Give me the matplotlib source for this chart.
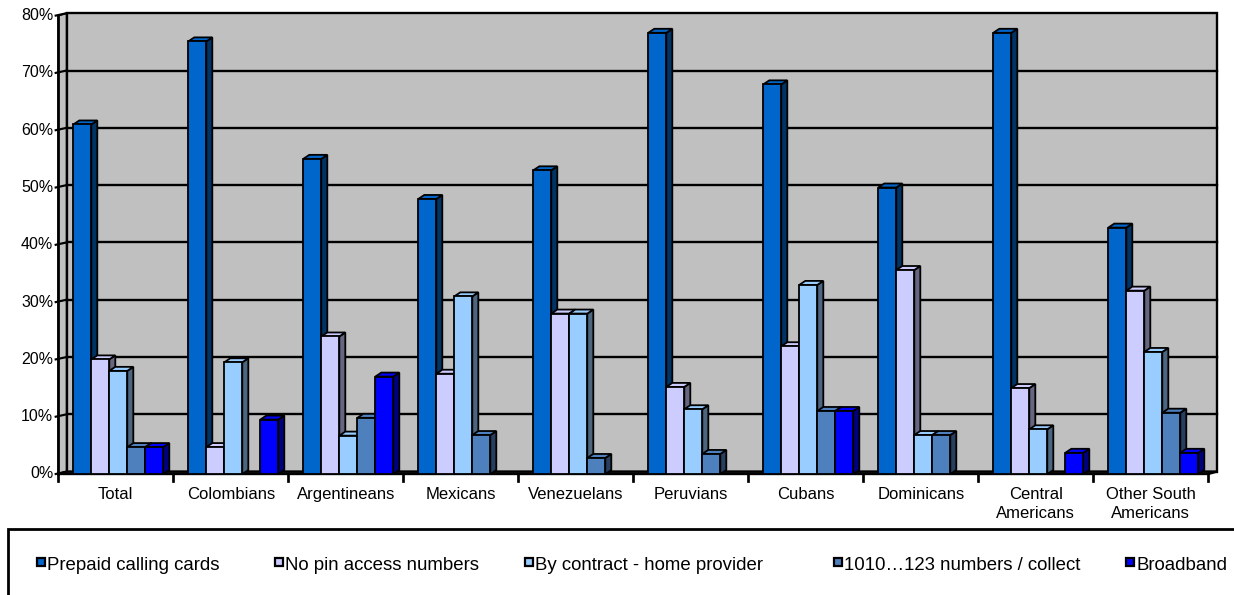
import matplotlib
matplotlib.use("Agg")
import matplotlib.pyplot as plt
from matplotlib.patches import Polygon, Rectangle

plt.rcParams['font.family'] = ['Liberation Sans', 'DejaVu Sans']

categories = ["Total", "Colombians", "Argentineans", "Mexicans", "Venezuelans",
              "Peruvians", "Cubans", "Dominicans", "Central\nAmericans", "Other South\nAmericans"]
series_names = ["Prepaid calling cards", "No pin access numbers",
                "By contract - home provider", "1010\u2026123 numbers / collect", "Broadband"]
prepaid = [61, 75.5, 55, 48, 53, 77, 68, 50, 77, 43]
no_pin = [20, 4.7, 24, 17.5, 28, 15.2, 22.3, 35.6, 15, 32]
contract = [18, 19.5, 6.7, 31, 28, 11.3, 33, 6.8, 7.8, 21.3]
ten10 = [4.7, 0, 9.8, 6.8, 2.8, 3.5, 11, 6.8, 0, 10.7]
broadband = [4.7, 9.5, 17, 0, 0, 0, 11, 0, 3.7, 3.7]
yticks = [0, 10, 20, 30, 40, 50, 60, 70, 80]

series = [prepaid, no_pin, contract, ten10, broadband]
front_cols = ["#0066CC", "#CCCCFF", "#99CCFF", "#4F80BE", "#0000FF"]
side_cols = ["#003366", "#666680", "#4C6680", "#283F5F", "#000080"]

W, H = 1234, 595
fig = plt.figure(figsize=(W / 100, H / 100), dpi=100)
x0, x1 = 58.3, 1208.3
y0 = 474.0
pxy = 5.73
ax = fig.add_axes([x0 / W, (H - y0) / H, (x1 - x0) / W, 80 * pxy / H])
ax.set_xlim(0, 10)
ax.set_ylim(0, 80)
ax.axis('off')

px = 10 / (x1 - x0)   # data units per px in x
py = 1 / pxy          # data units per px in y
WX, WY = 8.4 * px, 2.4 * py
BX, BY = 6.0 * px, 4.0 * py
lw = 1.3
GRAY = "#C0C0C0"

# side wall and back wall
ax.add_patch(Polygon([(0, 0), (WX, WY), (WX, 80 + WY), (0, 80)], closed=True,
                     facecolor=GRAY, edgecolor='black', lw=lw, clip_on=False, zorder=1))
ax.add_patch(Rectangle((WX, WY), 10, 80, facecolor=GRAY, edgecolor='black',
                       lw=lw * 1.3, clip_on=False, zorder=1))
# gridlines and slanted ticks
for v in yticks:
    if 0 < v < 80:
        ax.plot([WX, 10 + WX], [v + WY, v + WY], color='black', lw=lw * 1.3,
                clip_on=False, zorder=2)
    ax.plot([-2.6 * px, WX], [v, v + WY], color='black', lw=lw * 1.2, clip_on=False, zorder=2)
    ax.text(-5 * px, v, f"{v}%", ha='right', va='center', fontsize=11.5, clip_on=False)

# floor
ax.add_patch(Polygon([(0, 0), (10, 0), (10 + WX, WY), (WX, WY)], closed=True,
                     facecolor=GRAY, edgecolor='black', lw=lw * 1.3, clip_on=False, zorder=2))
# y axis line
ax.plot([0, 0], [0, 80], color='black', lw=lw * 1.5, clip_on=False, zorder=2)
# bottom ticks
for i in range(11):
    ax.plot([i, i], [0, -6.5 * py], color='black', lw=lw * 1.5, clip_on=False, zorder=2)

# bars
bw = 18 * px
off = 15 * px
for i in range(len(categories)):
    for j, vals in enumerate(series):
        v = vals[i]
        if v <= 0:
            continue
        left = i + off + j * bw
        right = left + bw
        z = 3 + j * 0.1
        ax.add_patch(Polygon([(right, 0), (right + BX, BY), (right + BX, v + BY), (right, v)],
                             closed=True, facecolor=side_cols[j], edgecolor='black',
                             lw=lw, clip_on=False, zorder=z))
        ax.add_patch(Polygon([(left, v), (right, v), (right + BX, v + BY), (left + BX, v + BY)],
                             closed=True, facecolor=front_cols[j], edgecolor='black',
                             lw=lw, clip_on=False, zorder=z))
        ax.add_patch(Rectangle((left, 0), bw, v, facecolor=front_cols[j], edgecolor='black',
                               lw=lw, clip_on=False, zorder=z + 0.01))

# category labels
for i, lab in enumerate(categories):
    ax.text(i + 0.5, -13 * py, lab, ha='center', va='top', fontsize=12,
            linespacing=1.3, clip_on=False)

# legend
fig.patches.append(Rectangle((8.3 / W, -0.1), 1.2, (H - 529.3) / H + 0.1,
                             transform=fig.transFigure, facecolor='white',
                             edgecolor='black', lw=2.0, clip_on=False))
mk_x = [37, 275, 525, 834, 1126]
ly = 561.7
for k, name in enumerate(series_names):
    fig.patches.append(Rectangle((mk_x[k] / W, (H - ly - 4) / H), 8 / W, 8 / H,
                                 transform=fig.transFigure, facecolor=front_cols[k],
                                 edgecolor='black', lw=1.6))
    fig.text((mk_x[k] + 10) / W, (H - 569.5) / H, name, ha='left', va='baseline',
             fontsize=13.4)

fig.savefig("out.png", dpi=100)
